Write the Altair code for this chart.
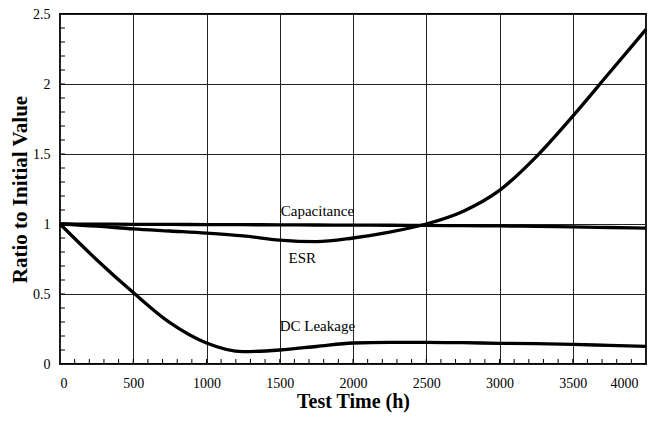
import altair as alt
import pandas as pd

hours = [0, 250, 500, 750, 1000, 1250, 1500, 1750, 2000, 2250, 2500, 2750, 3000, 3250, 3500, 3750, 4000]
capacitance = [1.0, 0.999, 0.998, 0.997, 0.996, 0.995, 0.994, 0.993, 0.992, 0.991, 0.99, 0.988, 0.986, 0.983, 0.979, 0.975, 0.97]
esr = [1.0, 0.985, 0.965, 0.95, 0.935, 0.915, 0.885, 0.874, 0.9, 0.942, 1.0, 1.09, 1.24, 1.48, 1.77, 2.08, 2.39]
dc_leakage = [1.0, 0.745, 0.51, 0.295, 0.15, 0.088, 0.1, 0.125, 0.15, 0.155, 0.155, 0.152, 0.148, 0.145, 0.14, 0.133, 0.126]

label_text = ["Capacitance", "ESR", "DC Leakage"]
label_x = [1757, 1654, 1757]
label_y = [1.09, 0.757, 0.27]

x_ticks = [0, 500, 1000, 1500, 2000, 2500, 3000, 3500, 4000]
y_ticks = [0, 0.5, 1, 1.5, 2, 2.5]
x_minor = list(range(100, 4000, 100))
y_minor = [round(i * 0.1, 1) for i in range(1, 25)]

FONT = "Liberation Serif"
W, H = 586, 350

rows = []
for name, vals in [("Capacitance", capacitance), ("ESR", esr), ("DC Leakage", dc_leakage)]:
    for h, v in zip(hours, vals):
        rows.append({"hours": h, "value": v, "series": name})
df = pd.DataFrame(rows)

xs = alt.Scale(domain=[0, 4000], nice=False, zero=False)
ys = alt.Scale(domain=[0, 2.5], nice=False, zero=False)

lines = alt.Chart(df).mark_line(color="black", strokeWidth=3.3, interpolate="monotone").encode(
    x=alt.X("hours:Q", scale=xs, title="Test Time (h)",
            axis=alt.Axis(values=x_ticks, format="d", grid=True, gridColor="#222", gridWidth=1,
                          domain=False, ticks=False, labelPadding=12,
                          labelOffset={"condition": {"test": "datum.value == 4000", "value": -8}, "value": 0},
                          labelFont=FONT, labelFontSize=14, labelColor="black",
                          titleFont=FONT, titleFontSize=20, titleFontWeight="bold",
                          titleColor="black", titlePadding=1)),
    y=alt.Y("value:Q", scale=ys, title="Ratio to Initial Value",
            axis=alt.Axis(values=y_ticks, format="~g", grid=True, gridColor="#222", gridWidth=1,
                          domain=False, ticks=False, labelPadding=10,
                          labelFont=FONT, labelFontSize=14, labelColor="black",
                          titleFont=FONT, titleFontSize=21, titleFontWeight="bold",
                          titleColor="black", titlePadding=2)),
    detail="series:N",
)

xm = alt.Chart(pd.DataFrame({"v": x_minor})).mark_rule(color="black", strokeWidth=1).encode(
    x=alt.X("v:Q", scale=xs), y=alt.value(H), y2=alt.value(H - 5))
ym = alt.Chart(pd.DataFrame({"v": y_minor})).mark_rule(color="black", strokeWidth=1).encode(
    y=alt.Y("v:Q", scale=ys), x=alt.value(0), x2=alt.value(5))

labels = alt.Chart(pd.DataFrame({"x": label_x, "y": label_y, "t": label_text})).mark_text(
    font=FONT, fontSize=15, color="black").encode(
    x=alt.X("x:Q", scale=xs), y=alt.Y("y:Q", scale=ys), text="t:N")

chart = alt.layer(xm, ym, lines, labels).properties(
    width=W, height=H,
    autosize=alt.AutoSizeParams(type="none"),
    padding={"left": 52, "top": 6, "right": 5, "bottom": 50},
    background="white",
).configure_view(stroke="black", strokeWidth=1.8)

chart.save("out.html", embed_options={"renderer": "svg", "actions": False})
